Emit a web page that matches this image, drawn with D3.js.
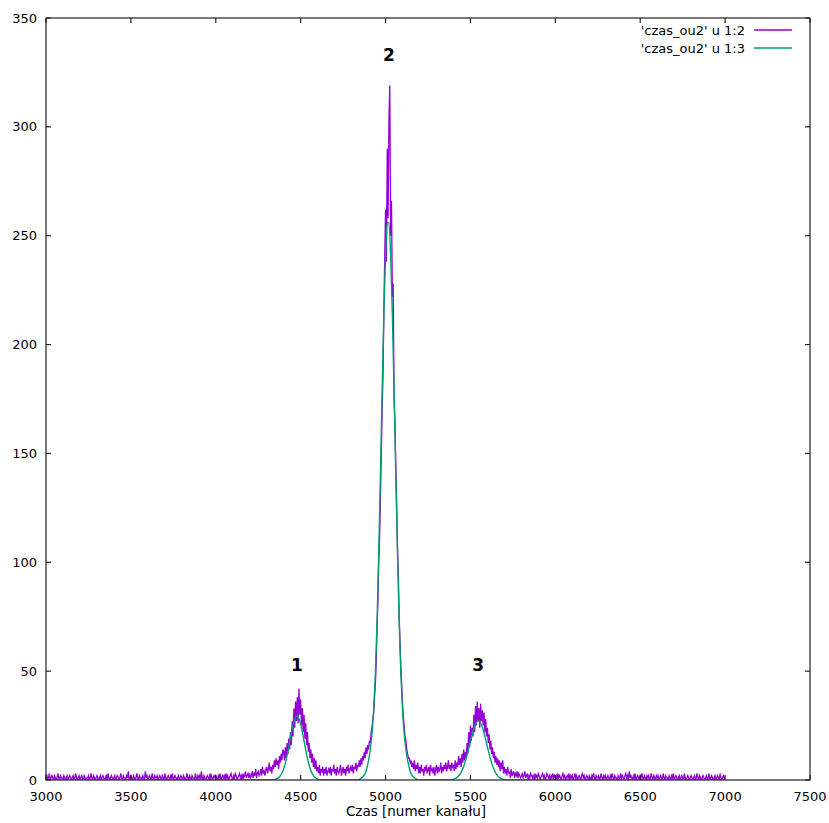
<!DOCTYPE html>
<html>
<head>
<meta charset="utf-8">
<script src="https://cdn.jsdelivr.net/npm/d3@7"></script>
<style>
  html, body { margin: 0; padding: 0; background: #fff; }
  svg { display: block; }
  text { font-family: "DejaVu Sans", Verdana, sans-serif; fill: #000; }
</style>
</head>
<body>
<svg id="chart" width="829" height="823"></svg>
<script>
// Time spectrum: counts for every 5th channel, from 3000 to 7000
const channelStart = 3000;
const channelStep = 5;
const counts = [
  // 3000-3195
  1,2,0,1,3,0,1,2,1,0, 2,1,0,1,3,1,0,2,1,1, 0,2,1,0,1,2,0,1,2,1, 0,1,2,0,1,3,1,0,1,2,
  // 3200-3395
  0,1,2,1,0,2,1,0,1,1, 2,0,1,3,1,0,2,1,0,1, 2,1,0,1,2,0,1,2,1,0, 1,2,0,3,1,0,1,2,1,0,
  // 3400-3595
  1,2,0,1,2,1,0,1,3,1, 0,2,1,1,0,2,1,4,0,1, 2,1,0,2,1,0,1,3,1,0, 2,1,1,0,2,1,0,4,1,2,
  // 3600-3795
  0,1,2,1,0,3,1,0,2,1, 1,2,0,1,2,1,0,2,1,0, 3,1,0,1,2,1,0,2,1,3, 0,1,2,1,0,1,2,0,1,2,
  // 3800-3995
  1,0,2,1,0,1,3,1,0,2, 1,0,2,1,1,0,3,1,0,2, 1,2,0,4,1,0,2,1,0,1, 2,1,0,3,1,2,0,1,2,1,
  // 4000-4195
  2,1,0,2,1,3,0,1,2,1, 2,0,3,1,2,0,1,2,3,1, 0,2,1,3,2,0,1,2,3,1, 2,0,3,1,2,4,1,2,3,1,
  // 4200-4395
  3,1,2,4,1,3,2,5,1,3, 4,2,3,5,2,6,3,4,2,5, 6,3,5,8,4,6,3,7,5,9, 6,10,7,9,5,11,8,12,9,14,
  // 4400-4595 (peak 1)
  13,9,15,10,17,12,19,14,22,16, 27,20,33,24,36,27,38,26,42,30, 37,25,33,22,30,19,26,16,22,13, 17,10,14,8,12,6,10,5,9,4,
  // 4600-4795
  6,3,7,2,5,4,6,2,5,3, 6,2,4,5,3,6,2,5,4,7, 3,5,2,6,4,3,5,7,2,4, 6,3,5,2,6,4,7,3,5,6,
  // 4800-4995
  4,7,3,6,5,8,4,7,6,9, 6,10,7,11,9,13,10,15,12,16, 14,18,17,22,24,28,31,38,44,54, 70,82,100,112,130,150,170,186,215,240,
  // 5000-5195 (peak 2)
  262,238,290,258,304,319,250,266,222,228, 176,165,146,128,108,95,76,64,52,44, 35,29,24,20,18,14,12,10,10,8, 9,6,8,5,9,4,7,5,8,3,
  // 5200-5395
  6,3,7,4,5,2,6,4,7,3, 5,6,2,7,4,5,3,6,2,5, 7,3,6,4,5,8,3,6,4,7, 5,8,4,6,9,5,7,4,8,6,
  // 5400-5595 (peak 3)
  7,4,9,5,8,6,11,7,10,6, 12,8,14,9,13,10,17,12,22,15, 25,18,24,20,30,22,34,25,36,27, 33,24,35,27,32,25,31,22,28,20,
  // 5600-5795
  24,17,21,14,18,12,15,10,13,8, 11,7,10,6,9,4,8,5,9,3, 6,3,5,2,6,3,4,1,5,2, 3,4,1,3,2,4,1,3,2,1,
  // 5800-5995
  2,3,1,2,4,1,2,3,0,2, 1,3,2,1,2,0,3,1,2,1, 3,2,0,1,2,3,1,2,0,1, 3,2,1,2,0,2,1,3,1,2,
  // 6000-6195
  1,2,0,3,1,2,1,0,2,3, 1,2,0,1,2,1,3,0,2,1, 2,0,1,3,1,2,0,1,2,1, 0,2,3,1,2,0,1,2,1,0,
  // 6200-6395
  2,1,0,2,1,3,1,0,2,1, 1,2,0,1,3,1,0,2,1,2, 0,1,2,1,0,2,1,3,1,0, 2,1,1,0,2,1,0,3,1,2,
  // 6400-6595
  1,0,2,3,1,2,0,4,1,2, 1,0,2,1,3,0,1,2,1,0, 2,1,3,1,0,2,1,0,2,1, 2,0,1,3,1,0,2,1,0,2,
  // 6600-6795
  1,2,0,1,2,1,0,3,1,0, 2,1,1,0,2,1,0,2,1,3, 0,1,2,1,0,1,2,0,1,2, 1,0,3,1,0,1,2,1,0,1,
  // 6800-6995
  2,1,0,1,2,0,1,3,1,0, 2,1,0,1,2,1,0,1,2,0, 1,3,0,1,2,1,0,1,2,0, 1,2,1,0,3,1,0,1,2,1,
  // 7000
  1
];

// Fitted curve (three peaks), sampled channels and fitted counts
const fitChannels = [
  3000, 4340, 4350, 4360, 4370, 4380, 4390, 4400, 4410, 4420, 4430, 4440, 4450, 4460, 4470,
  4480, 4490, 4500, 4510, 4520, 4530, 4540, 4550, 4560, 4570, 4580, 4590, 4600, 4610,
  4840, 4850, 4860, 4870, 4880, 4890, 4900, 4910, 4920, 4930, 4940, 4950, 4960, 4970, 4980, 4990,
  5000, 5010, 5020, 5030, 5040, 5050, 5060, 5070, 5080, 5090, 5100, 5110, 5120, 5130, 5140,
  5150, 5160, 5170, 5180, 5190,
  5390, 5400, 5410, 5420, 5430, 5440, 5450, 5460, 5470, 5480, 5490, 5500, 5510, 5520, 5530,
  5540, 5550, 5560, 5570, 5580, 5590, 5600, 5610, 5620, 5630, 5640, 5650, 5660, 5670, 5680,
  5690, 5700, 5710, 7000
];
const fitCounts = [
  0, 0, 0.3, 0.6, 1.1, 1.9, 3.3, 5.2, 7.9, 11.3, 15.3, 19.5, 23.5, 26.8, 28.9,
  29.4, 28.2, 25.6, 22.0, 17.8, 13.7, 9.9, 6.8, 4.4, 2.7, 1.5, 0.8, 0.4, 0,
  0, 0.5, 1, 1.8, 3, 5.5, 9, 14, 21, 32, 49, 73, 105, 141, 179, 214,
  241, 256, 256, 241, 214, 179, 141, 105, 73, 49, 32, 21, 14, 9, 5.5,
  3, 1.8, 1, 0.5, 0,
  0, 0.4, 0.7, 1.1, 1.8, 2.9, 4.3, 6.2, 8.6, 11.4, 14.5, 17.8, 21.0, 23.8, 25.8,
  27.0, 27.1, 26.2, 24.2, 21.6, 18.5, 15.2, 12.0, 9.1, 6.6, 4.7, 3.1, 2.0, 1.2, 0.75,
  0.4, 0.2, 0, 0
];

const xTicks = [3000, 3500, 4000, 4500, 5000, 5500, 6000, 6500, 7000, 7500];
const yTicks = [0, 50, 100, 150, 200, 250, 300, 350];
const seriesNames = ["'czas_ou2' u 1:2", "'czas_ou2' u 1:3"];
const peakLabels = ["1", "2", "3"];
const peakChannels = [4478, 5020, 5545];
const peakLabelCounts = [53, 333, 53];
const xTitle = "Czas [numer kanału]";

const colors = ["#9400d3", "#009e73"];

const svg = d3.select("#chart");
const W = 829, H = 823;
const m = { left: 46, right: 19, top: 18, bottom: 43 };
const x0 = m.left, x1 = W - m.right, y0 = H - m.bottom, y1 = m.top;

const x = d3.scaleLinear().domain([3000, 7500]).range([x0, x1]);
const y = d3.scaleLinear().domain([0, 350]).range([y0, y1]);

const data = counts.map((c, i) => ({ ch: channelStart + i * channelStep, v: c }));
const fit = fitChannels.map((c, i) => ({ ch: c, v: fitCounts[i] }));

svg.append("clipPath").attr("id", "plotclip")
  .append("rect").attr("x", x0).attr("y", y1).attr("width", x1 - x0).attr("height", y0 - y1);

const plot = svg.append("g").attr("clip-path", "url(#plotclip)");

// measured counts
const dataLine = d3.line().x(d => x(d.ch)).y(d => y(d.v));
plot.append("path").datum(data)
  .attr("d", dataLine).attr("fill", "none")
  .attr("stroke", colors[0]).attr("stroke-width", 1.3).attr("stroke-linejoin", "miter");

// fitted curve on top
const fitLine = d3.line().x(d => x(d.ch)).y(d => y(d.v)).curve(d3.curveMonotoneX);
plot.append("path").datum(fit)
  .attr("d", fitLine).attr("fill", "none")
  .attr("stroke", colors[1]).attr("stroke-width", 1.4);

// Frame and ticks (mirrored on the opposite sides)
const axisG = svg.append("g").attr("stroke", "#222").attr("stroke-width", 1.2);
axisG.append("rect").attr("x", x0).attr("y", y1).attr("width", x1 - x0).attr("height", y0 - y1)
  .attr("fill", "none");
const tl = 5;
xTicks.forEach(t => {
  axisG.append("line").attr("x1", x(t)).attr("x2", x(t)).attr("y1", y0).attr("y2", y0 - tl);
  axisG.append("line").attr("x1", x(t)).attr("x2", x(t)).attr("y1", y1).attr("y2", y1 + tl);
});
yTicks.forEach(t => {
  axisG.append("line").attr("x1", x0).attr("x2", x0 + tl).attr("y1", y(t)).attr("y2", y(t));
  axisG.append("line").attr("x1", x1).attr("x2", x1 - tl).attr("y1", y(t)).attr("y2", y(t));
});

const fs = 13;
svg.append("g").selectAll("text").data(xTicks).join("text")
  .attr("x", d => x(d)).attr("y", y0 + 21)
  .attr("text-anchor", "middle").attr("font-size", fs)
  .text(d => d);
svg.append("g").selectAll("text").data(yTicks).join("text")
  .attr("x", x0 - 9).attr("y", d => y(d)).attr("dy", "0.35em")
  .attr("text-anchor", "end").attr("font-size", fs)
  .text(d => d);

svg.append("text").attr("x", 416).attr("y", y0 + 36)
  .attr("text-anchor", "middle").attr("font-size", 13.5).text(xTitle);

// Legend
seriesNames.forEach((name, i) => {
  const ly = 30 + i * 18;
  svg.append("text").attr("x", 745).attr("y", ly).attr("dy", "0.35em")
    .attr("text-anchor", "end").attr("font-size", fs).text(name);
  svg.append("line").attr("x1", 754).attr("x2", 792).attr("y1", ly).attr("y2", ly)
    .attr("stroke", colors[i]).attr("stroke-width", 1.4);
});

// Peak numbers
svg.append("g").selectAll("text").data(peakLabels).join("text")
  .attr("x", (d, i) => x(peakChannels[i]))
  .attr("y", (d, i) => y(peakLabelCounts[i]))
  .attr("dy", "0.35em")
  .attr("text-anchor", "middle").attr("font-size", 17).attr("font-weight", "bold")
  .text(d => d);
</script>
</body>
</html>
